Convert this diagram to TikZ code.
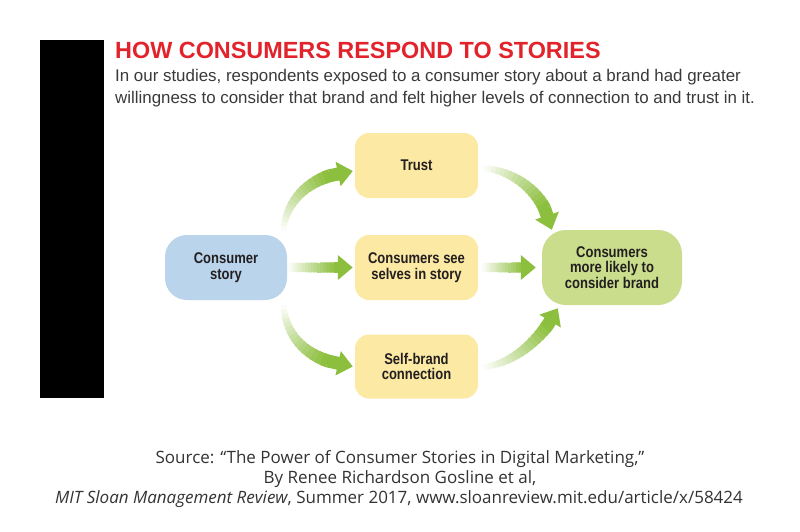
\documentclass[tikz,border=0pt]{standalone}
\usepackage{fontspec}
\setmainfont{Liberation Sans}
\newfontfamily\boxfont[FakeStretch=0.84]{Liberation Sans}
\newfontfamily\capfont{Open Sans}
\usetikzlibrary{arrows.meta,calc}
\definecolor{titlered}{HTML}{E2232B}
\definecolor{subgray}{HTML}{3A3A3A}
\definecolor{boxtext}{HTML}{231F20}
\definecolor{bluefill}{HTML}{BAD4EC}
\definecolor{yellowfill}{HTML}{FCE9A4}
\definecolor{greenfill}{HTML}{C9DD8C}
\definecolor{arrowgreen}{HTML}{8DBF3E}
\definecolor{captext}{HTML}{333333}
\tikzset{
  box/.style={rounded corners=#1, minimum width=123pt, minimum height=65pt,
    align=center, text=boxtext, inner sep=2pt,
    font=\boxfont\bfseries\fontsize{15.5}{15.5}\selectfont},
  box/.default=14pt
}
% #1 start width, #2 end width, #3 start, #4 c1, #5 c2, #6 end
\newcommand{\gradarrow}[6]{%
  \path #3 .. controls #4 and #5 .. #6
    \foreach \k in {0,...,20}{coordinate[pos=\k/20] (q\k)};
  \foreach \k in {0,...,15}{%
    \pgfmathtruncatemacro{\kn}{\k+1}%
    \pgfmathtruncatemacro{\cc}{4+\k*6.4}%
    \pgfmathsetmacro{\lw}{#1+(#2-#1)*\k/15}%
    \draw[line width=\lw pt, arrowgreen!\cc!white, shorten >=-0.7pt] (q\k) -- (q\kn);
  }
  \draw[line width=#2pt, arrowgreen, -{Triangle[width=24pt,length=15pt]}] (q16) -- (q20);
}
\begin{document}
\begin{tikzpicture}[x=1pt,y=-1pt]
\useasboundingbox (0,0) rectangle (800,531);
\fill[white] (0,0) rectangle (800,531);
% black bar
\fill[black] (40,40) rectangle (104,398);
% title
\node[anchor=base west, inner sep=0pt, text=titlered,
  font=\bfseries\fontsize{23.4}{24}\selectfont] (title) at (115,58.3) {HOW CONSUMERS RESPOND TO STORIES};
\node[anchor=base west, inner sep=0pt, text=subgray,
  font=\fontsize{16.9}{22}\selectfont] (sub1) at (115,81.7)
  {In our studies, respondents exposed to a consumer story about a brand had greater};
\node[anchor=base west, inner sep=0pt, text=subgray,
  font=\fontsize{16.9}{22}\selectfont] (sub2) at (115,103.5)
  {willingness to consider that brand and felt higher levels of connection to and trust in it.};
% boxes
\node[box=22pt, fill=bluefill, minimum width=122pt] (story) at (226,267.5) {Consumer\\story};
\node[box, fill=yellowfill] (trust) at (416.5,165.5) {Trust};
\node[box, fill=yellowfill] (selves) at (416.5,267.5) {Consumers see\\selves in story};
\node[box, fill=yellowfill, minimum height=64pt] (selfbrand) at (416.5,366.5) {Self-brand\\connection};
\node[box=24pt, fill=greenfill, minimum width=140pt, minimum height=75pt] (consider) at (612,267.5) {Consumers\\more likely to\\consider brand};
% arrows left
\gradarrow{5.5}{13}{($(story.north east)+(-4,-4)$)}{($(story.north east)+(-1,-35)$)}{($(trust.west)+(-45,9.5)$)}{($(trust.west)+(-2,5.5)$)}
\gradarrow{5.5}{13}{($(story.south east)+(-4,5)$)}{($(story.south east)+(-1,35)$)}{($(selfbrand.west)+(-50,-5.5)$)}{($(selfbrand.west)+(-2,0)$)}
\gradarrow{9}{10.5}{($(story.east)+(1,0)$)}{($(story.east)+(20,0)$)}{($(selves.west)+(-30,0)$)}{($(selves.west)+(-2,0)$)}
% arrows right
\gradarrow{5.5}{13}{($(trust.east)+(5,2.5)$)}{($(trust.east)+(32,4.5)$)}{($(consider.north west)+(3,-40)$)}{($(consider.north west)+(10,0)$)}
\gradarrow{5.5}{13}{($(selfbrand.east)+(5,0.5)$)}{($(selfbrand.east)+(37,-2.5)$)}{($(consider.south west)+(3,30)$)}{($(consider.south west)+(16,3)$)}
\gradarrow{9}{10.5}{($(selves.east)+(4,0)$)}{($(selves.east)+(20,0)$)}{($(consider.west)+(-25,0)$)}{($(consider.west)+(-6,0)$)}
% caption
\node[anchor=base, inner sep=0pt, text=captext,
  font=\capfont\fontsize{17}{20}\selectfont] (cap1) at (400,463.3)
  {Source: “The Power of Consumer Stories in Digital Marketing,”};
\node[anchor=base, inner sep=0pt, text=captext,
  font=\capfont\fontsize{17}{20}\selectfont] (cap2) at (400,483.3)
  {By Renee Richardson Gosline et al,};
\node[anchor=base, inner sep=0pt, text=captext,
  font=\capfont\fontsize{17}{20}\selectfont] (cap3) at (399,503)
  {\textit{MIT Sloan Management Review}, Summer 2017, www.sloanreview.mit.edu/article/x/58424};
\end{tikzpicture}
\end{document}
